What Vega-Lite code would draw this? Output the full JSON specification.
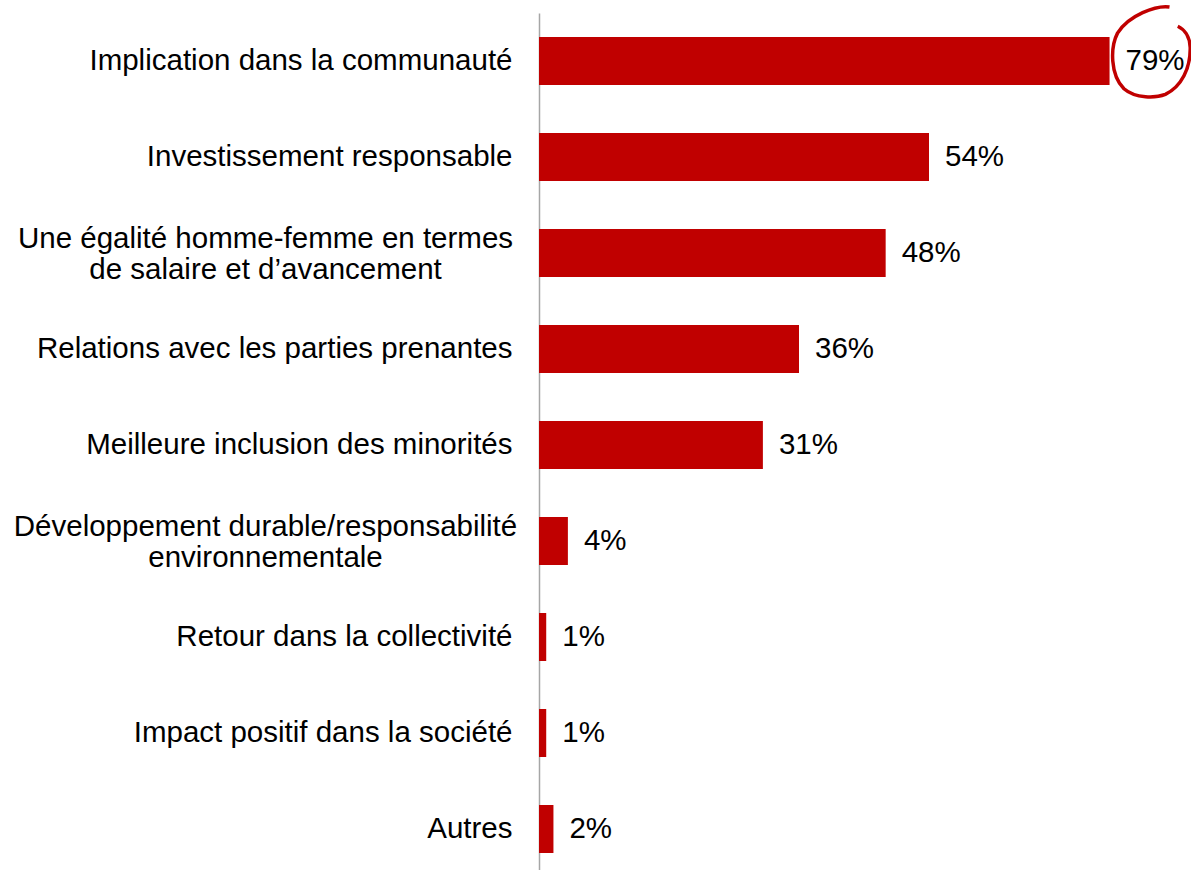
{
  "$schema": "https://vega.github.io/schema/vega-lite/v6.json",
  "autosize": "none",
  "width": 650,
  "height": 864,
  "padding": {"left": 539, "top": 13, "right": 2, "bottom": 0},
  "background": "white",
  "config": {"view": {"stroke": null}, "font": "Liberation Sans"},
  "data": {
    "values": [
      {"item": "Implication dans la communauté", "pct": 79, "label": "79%"},
      {"item": "Investissement responsable", "pct": 54, "label": "54%"},
      {"item": "Une égalité homme-femme en termes|de salaire et d’avancement", "pct": 48, "label": "48%"},
      {"item": "Relations avec les parties prenantes", "pct": 36, "label": "36%"},
      {"item": "Meilleure inclusion des minorités", "pct": 31, "label": "31%"},
      {"item": "Développement durable/responsabilité|environnementale", "pct": 4, "label": "4%"},
      {"item": "Retour dans la collectivité", "pct": 1, "label": "1%"},
      {"item": "Impact positif dans la société", "pct": 1, "label": "1%"},
      {"item": "Autres", "pct": 2, "label": "2%"}
    ]
  },
  "encoding": {
    "y": {
      "field": "item",
      "type": "nominal",
      "sort": null,
      "scale": {"paddingInner": 0.5, "paddingOuter": 0.25},
      "axis": {
        "title": null,
        "ticks": false,
        "domainColor": "#A6A6A6",
        "domainWidth": 1.5,
        "labelFont": "Liberation Sans",
        "labelFontSize": 29.5,
        "labelColor": "#000000",
        "labelLineHeight": 31,
        "labelLimit": 0,
        "labelExpr": "split(datum.value, '|')",
        "labelAlign": {"condition": {"test": "indexof(datum.value, '|') >= 0", "value": "center"}, "value": "right"},
        "labelPadding": {"condition": {"test": "indexof(datum.value, '|') >= 0", "value": 274}, "value": 27},
        "labelOffset": {"condition": {"test": "indexof(datum.value, '|') >= 0", "value": -14}, "value": 0}
      }
    },
    "x": {
      "field": "pct",
      "type": "quantitative",
      "scale": {"domain": [0, 90], "nice": false},
      "axis": null
    }
  },
  "layer": [
    {"mark": {"type": "bar", "color": "#C00000"}},
    {
      "mark": {"type": "text", "align": "left", "baseline": "middle", "dx": 16, "fontSize": 29.5, "font": "Liberation Sans", "color": "#000000"},
      "encoding": {"text": {"field": "label"}}
    },
    {
      "transform": [{"filter": "datum.pct == 79"}],
      "mark": {
        "type": "point",
        "shape": "M0.39,-0.98 C0.1,-1.02 -0.5,-0.8 -0.74,-0.41 C-0.9,-0.1 -0.9,0.5 -0.6,0.8 C-0.35,1.02 0.1,1.0 0.3,0.92 C0.65,0.75 0.85,0.35 0.84,-0.1 C0.83,-0.35 0.7,-0.5 0.57,-0.56",
        "filled": false,
        "stroke": "#C00000",
        "strokeWidth": 3.5,
        "opacity": 1,
        "size": 8464,
        "xOffset": 42,
        "yOffset": -9
      }
    }
  ]
}
